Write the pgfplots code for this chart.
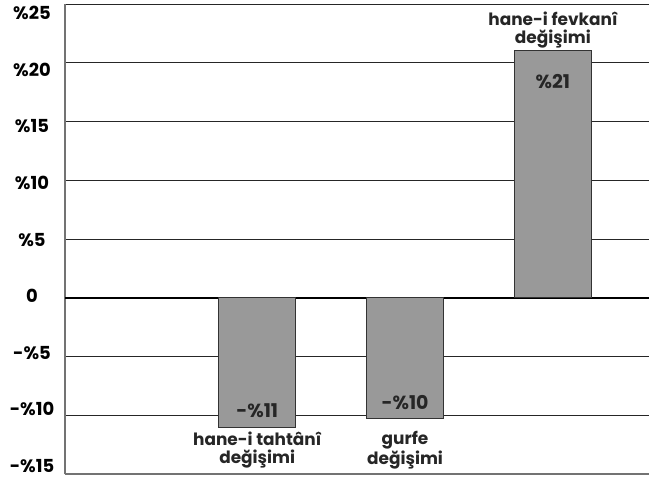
\documentclass[border=0pt]{standalone}
\usepackage{fontspec}
\setmainfont{Poppins}
\usepackage{pgfplots}
\pgfplotsset{compat=1.18}
\begin{document}
\begin{tikzpicture}
\begin{axis}[
  width=584bp, height=470bp, scale only axis,
  xmin=-0.3, xmax=3.65, ymin=-15, ymax=25,
  axis x line*=bottom, axis y line*=left,
  axis line style={-, black!55, line width=1.2pt},
  xtick=\empty,
  ytick={-15,-10,...,25},
  yticklabels={-\%15,-\%10,-\%5,0,\%5,\%10,\%15,\%20,\%25},
  ymajorgrids, grid style={black!85, line width=0.8pt},
  extra y ticks={0}, extra y tick labels={},
  extra y tick style={grid style={black, line width=2pt}},
  major tick length=0,
  yticklabel style={anchor=center, xshift=-33bp, yshift=8bp-2.15bp*\ticknum,
    font=\fontsize{18}{18}\selectfont\bfseries},
  clip=false,
]
\coordinate (sw) at (rel axis cs:0,0);
\coordinate (ne) at (rel axis cs:1,1);
% negative bars
\addplot[ybar, bar shift=0pt, bar width=77bp, fill=black!40, draw=black!80, line width=1pt,
  nodes near coords, point meta=explicit symbolic,
  nodes near coords align={anchor=south, yshift=5bp},
  every node near coord/.append style={text=black!85, font=\fontsize{19}{19}\selectfont\bfseries}]
  coordinates {(1,-11) [-\%11] (2,-10.3) [-\%10]};
% positive bar
\addplot[ybar, bar shift=0pt, bar width=77bp, fill=black!40, draw=black!80, line width=1pt,
  nodes near coords, point meta=explicit symbolic,
  nodes near coords align={anchor=north, yshift=-20bp},
  every node near coord/.append style={text=black!85, font=\fontsize{19}{19}\selectfont\bfseries}]
  coordinates {(3,21) [\%21]};
% category labels
\addplot[draw=none, mark=none,
  nodes near coords, point meta=explicit symbolic,
  nodes near coords align={anchor=north, yshift=-1bp},
  every node near coord/.append style={align=center, text=black!85, font=\fontsize{17}{18}\selectfont\bfseries}]
  coordinates {(1,-11) [{hane-i tahtânî\\değişimi}] (2,-11) [{gurfe\\değişimi}]};
\addplot[draw=none, mark=none,
  nodes near coords, point meta=explicit symbolic,
  nodes near coords align={anchor=south, yshift=-1bp},
  every node near coord/.append style={align=center, text=black!85, font=\fontsize{17}{18}\selectfont\bfseries}]
  coordinates {(3,21) [{hane-i fevkanî\\değişimi}]};
\end{axis}
\pgfresetboundingbox
\path ([shift={(-65bp,-5bp)}]sw) rectangle ([shift={(0bp,4bp)}]ne);
\end{tikzpicture}
\end{document}
